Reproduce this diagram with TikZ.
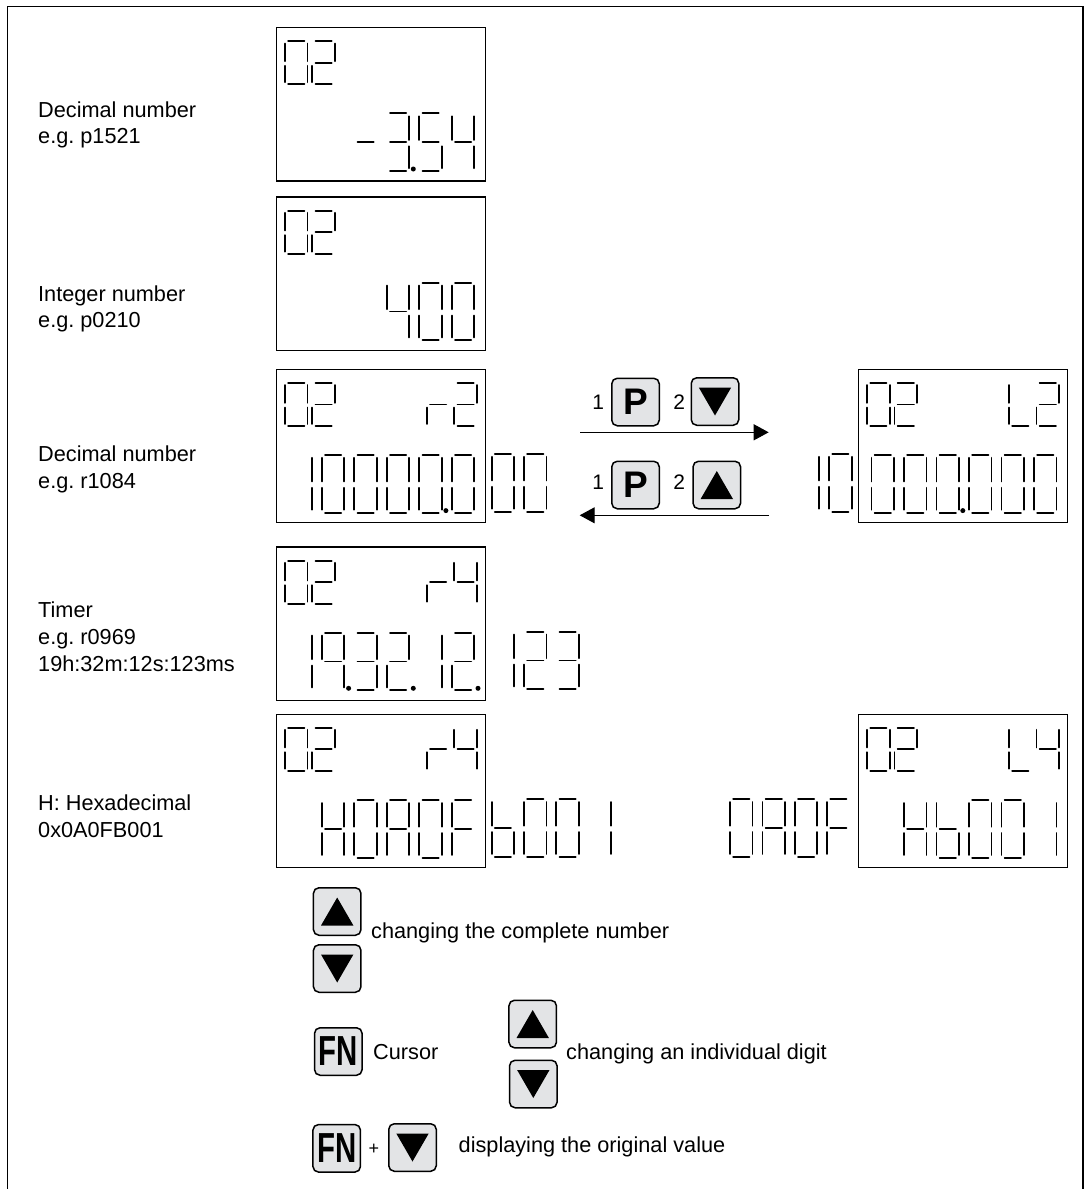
\documentclass[tikz,border=0pt]{standalone}
\usepackage{fontspec}
\usepackage{graphicx}
\setmainfont{Liberation Sans}
\usetikzlibrary{arrows.meta}

\definecolor{keygray}{HTML}{E3E4E6}

\tikzset{
    lcdseg/.style={line width=1.9pt, line cap=round},
    lcdbox/.style={draw, line width=1.1pt, anchor=north west, minimum width=209pt, minimum height=153.3pt, inner sep=0pt, outer sep=0pt},
    lcddot/.style={circle, fill, inner sep=0pt, minimum size=5pt},
    keybtn/.style={draw, line width=1.5pt, rounded corners=5.5pt, fill=keygray, minimum size=47.5pt, inner sep=0pt, outer sep=0pt, font=\fontsize{37}{37}\bfseries},
    upkey/.style={keybtn, path picture={\fill[black, sharp corners] ([shift={(0pt,14pt)}]path picture bounding box.center) -- ++(16.2pt,-28pt) -- ++(-32.4pt,0pt) -- cycle;}},
    downkey/.style={keybtn, path picture={\fill[black, sharp corners] ([shift={(0pt,-14pt)}]path picture bounding box.center) -- ++(16.2pt,28pt) -- ++(-32.4pt,0pt) -- cycle;}},
    lbl/.style={anchor=west, align=left, inner sep=0pt, font=\fontsize{21.7}{26.6}\selectfont\frenchspacing},
    lineb/.style={anchor=base west, inner sep=0pt, font=\fontsize{21.7}{26.6}\selectfont},
    num/.style={inner sep=0pt, font=\fontsize{21}{21}\selectfont},
    arr/.style={line width=1.1pt, -{Triangle[length=15pt, width=16pt]}, shorten >=-1pt},
    % segments of one digit, y runs from 0 (top) to 1 (bottom)
    seg a/.style={insert path={(3.2,0) -- (19.3,0)}},
    seg b/.style={insert path={(22.5,.05) -- (22.5,.46)}},
    seg c/.style={insert path={(22.5,.57) -- (22.5,.95)}},
    seg d/.style={insert path={(3.2,1) -- (19.3,1)}},
    seg e/.style={insert path={(0,.57) -- (0,.95)}},
    seg f/.style={insert path={(0,.05) -- (0,.46)}},
    seg g/.style={insert path={(3.2,.5) -- (19.3,.5)}},
    glyph 0/.style={seg a, seg b, seg c, seg d, seg e, seg f},
    glyph 1/.style={seg b, seg c},
    glyph 2/.style={seg a, seg b, seg g, seg e, seg d},
    glyph 3/.style={seg a, seg b, seg g, seg c, seg d},
    glyph 4/.style={seg f, seg g, seg b, seg c},
    glyph 5/.style={seg a, seg f, seg g, seg c, seg d},
    glyph 9/.style={seg a, seg b, seg c, seg f, seg g},
    glyph A/.style={seg a, seg b, seg c, seg e, seg f, seg g},
    glyph F/.style={seg a, seg f, seg g, seg e},
    glyph H/.style={seg f, seg b, seg g, seg e, seg c},
    glyph b/.style={seg f, seg g, seg e, seg c, seg d},
    glyph r/.style={seg g, seg e},
    glyph L/.style={seg f, seg e, seg d},
    glyph m/.style={seg g},
}

% box name, y offset below the box top, digit height, x offset/glyph list
\newcommand{\lcdrow}[4]{
    \foreach \dx/\gl in {#4} {
        \begin{scope}[shift={(#1.north west)}, shift={(\dx,#2)}, y=-#3pt]
            \draw[lcdseg, glyph \gl];
        \end{scope}
    }
}

\begin{document}
\begin{tikzpicture}[x=1pt, y=-1pt]
    \useasboundingbox (0,0) rectangle (1091,1189);

    % open frame
    \draw[line width=1.2pt] (7.7,1189) -- (7.7,6.2) -- (1083,6.2) -- (1083,1189);

    % left labels
    \node[lbl] (labela) at (38,125) {Decimal number\\e.g. p1521};
    \node[lbl] (labelb) at (38,308.8) {Integer number\\e.g. p0210};
    \node[lbl] (labelc) at (38,469.2) {Decimal number\\e.g. r1084};
    \node[lbl] (labeld) at (38,636.7) {Timer\\e.g. r0969\\19h:32m:12s:123ms};
    \node[lbl] (labele) at (38,816.5) {H: Hexadecimal\\0x0A0FB001};

    % displays
    \node[lcdbox] (boxa) at (276.3,27.7) {};
    \node[lcdbox] (boxb) at (276.3,197) {};
    \node[lcdbox] (boxc) at (276.3,369.3) {};
    \node[lcdbox] (boxd) at (276.3,547) {};
    \node[lcdbox] (boxe) at (276.3,714.5) {};
    \node[lcdbox] (boxf) at (858.5,369.3) {};
    \node[lcdbox] (boxg) at (858.5,714.5) {};

    \lcdrow{boxa}{13.7}{43}{8.7/0, 36/2}
    \lcdrow{boxb}{13.7}{43}{8.7/0, 36/2}
    \lcdrow{boxc}{13.7}{43}{8.7/0, 36/2, 150.5/r, 178/2}
    \lcdrow{boxd}{13.7}{43}{8.7/0, 36/2, 150.5/r, 178/4}
    \lcdrow{boxe}{13.2}{43}{8.7/0, 36/2, 150.5/r, 178/4}
    \lcdrow{boxf}{13.7}{43}{8.7/0, 36/2, 150.5/L, 178/2}
    \lcdrow{boxg}{13.2}{43}{8.7/0, 36/2, 150.5/L, 178/4}

    \lcdrow{boxa}{85.7}{57.6}{78/m, 110.5/3, 143/5, 175.5/4}
    \lcdrow{boxb}{85.7}{57.6}{110.5/4, 143/0, 175.5/0}
    \lcdrow{boxc}{85.7}{57.6}{13/1, 45.5/0, 78/0, 110.5/0, 143/0, 175.5/0}
    \lcdrow{boxd}{85.7}{57.6}{13/1, 45.5/9, 78/3, 110.5/2, 143/1, 175.5/2}
    \lcdrow{boxe}{85.7}{57.6}{45.5/H, 78/0, 110.5/A, 143/0, 175.5/F}
    \lcdrow{boxf}{85.7}{57.6}{13/0, 45.5/0, 78/0, 110.5/0, 143/0, 175.5/0}
    \lcdrow{boxg}{85.7}{57.6}{45.5/H, 78/b, 110.5/0, 143/0, 175.5/1}

    % digits beside the displays
    \lcdrow{boxc}{84.7}{57.6}{215.3/0, 247.7/0}
    \lcdrow{boxd}{84.7}{57.6}{215.3/1, 247.7/2, 280/3}
    \lcdrow{boxe}{84.7}{57.6}{215.3/b, 247.7/0, 280/0, 312.5/1}
    \lcdrow{boxf}{84.7}{57.6}{-29.3/0, -61.8/1}
    \lcdrow{boxg}{84.7}{57.6}{-31.3/F, -63.7/0, -96/A, -128.5/0}

    % decimal points
    \node[lcddot] (dota) at ([shift={(137,141.3)}]boxa.north west) {};
    \node[lcddot] (dotc) at ([shift={(169.6,141.3)}]boxc.north west) {};
    \node[lcddot] (dotf) at ([shift={(104.3,141.3)}]boxf.north west) {};
    \node[lcddot] (dotd) at ([shift={(72.3,141.3)}]boxd.north west) {};
    \node[lcddot] (dote) at ([shift={(137,141.3)}]boxd.north west) {};
    \node[lcddot] (dotg) at ([shift={(201.7,141.3)}]boxd.north west) {};

    % keys between the displays
    \node[num] (one) at (598.3,402.3) {1};
    \node[keybtn] (pkeya) at (635.5,402) {P};
    \node[num] (two) at (679.3,401.7) {2};
    \node[downkey] (downa) at (715,401.5) {};
    \node[num] (three) at (598.3,482.3) {1};
    \node[keybtn] (pkeyb) at (635.5,485) {P};
    \node[num] (four) at (679.3,482.3) {2};
    \node[upkey] (upa) at (716.8,485) {};

    \coordinate (toparrowl) at (580,432.3);
    \coordinate (toparrowr) at (767.7,432.3);
    \coordinate (botarrowl) at (580.7,515.3);
    \coordinate (botarrowr) at (769,515.3);
    \draw[arr] (toparrowl) -- (toparrowr);
    \draw[arr] (botarrowr) -- (botarrowl);

    % key legend
    \node[upkey] (upb) at (337.2,911.5) {};
    \node[downkey] (downb) at (337.2,968.5) {};
    \node[lineb] (complete) at (371,938) {changing the complete number};
    \node[keybtn] (fna) at (338.3,1051.5) {\fontsize{42}{42}\bfseries\scalebox{.7}[1]{FN}};
    \node[lineb] (cursor) at (373,1059.5) {Cursor};
    \node[upkey] (upc) at (532.7,1024) {};
    \node[downkey] (downc) at (533.3,1084) {};
    \node[lineb] (digit) at (566,1059.5) {changing an individual digit};
    \node[keybtn] (fnb) at (336.7,1148.3) {\fontsize{42}{42}\bfseries\scalebox{.7}[1]{FN}};
    \node[num] (plus) at (374,1149.3) {\fontsize{18}{18}\selectfont +};
    \node[downkey] (downd) at (412.5,1147.5) {};
    \node[lineb] (original) at (458.5,1152.3) {displaying the original value};
\end{tikzpicture}
\end{document}
